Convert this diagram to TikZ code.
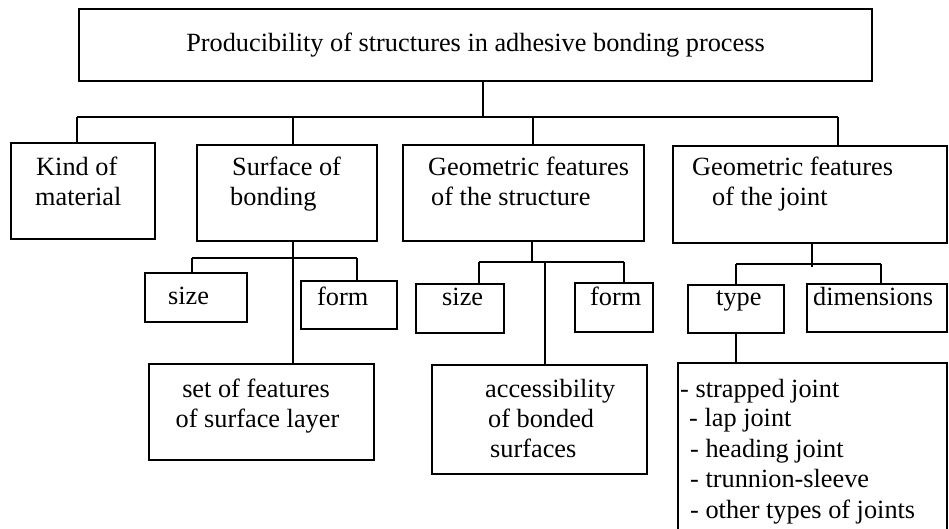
\documentclass[tikz,border=0pt]{standalone}
\usepackage{fontspec}
\setmainfont{Liberation Serif}
\begin{document}
\begin{tikzpicture}[x=1pt,y=-1pt,
  box/.style={draw=black, line width=2pt, rectangle, inner sep=0pt},
  txt/.style={inner sep=0pt, anchor=base west, font=\fontsize{26.3}{30}\selectfont},
  ctxt/.style={inner sep=0pt, anchor=base, font=\fontsize{26.3}{30}\selectfont},
  conn/.style={draw=black, line width=2pt}]
\useasboundingbox (0,0) rectangle (949,528);
% boxes
\node[box, minimum width=793pt, minimum height=72pt, font=\fontsize{26.3}{30}\selectfont] (top) at (475.5,45) {Producibility of structures in adhesive bonding process};
\node[box, minimum width=144pt, minimum height=96pt] (kind) at (83,191) {};
\node[box, minimum width=180pt, minimum height=96pt] (surf) at (287,193) {};
\node[box, minimum width=241pt, minimum height=96pt] (gstr) at (523.5,193) {};
\node[box, minimum width=274pt, minimum height=97pt] (gjoint) at (810,194.5) {};
\node[box, minimum width=102pt, minimum height=49pt] (sizea) at (196,297.5) {};
\node[box, minimum width=96pt, minimum height=48pt] (forma) at (349,305) {};
\node[box, minimum width=88pt, minimum height=49pt] (sizeb) at (460,308.5) {};
\node[box, minimum width=78pt, minimum height=49pt] (formb) at (614,307.5) {};
\node[box, minimum width=96pt, minimum height=48pt] (type) at (736,309) {};
\node[box, minimum width=140pt, minimum height=48pt] (dims) at (877,308) {};
\node[box, minimum width=225pt, minimum height=96pt] (setf) at (261.5,412) {};
\node[box, minimum width=215pt, minimum height=109pt] (access) at (539.5,419.5) {};
\node[box, minimum width=269pt, minimum height=177pt] (list) at (812.5,451.5) {};
% texts
\node[txt] (t1a) at (36,175) {Kind of};
\node[txt] (t1b) at (35,205) {material};
\node[txt] (t2a) at (232,175) {Surface of};
\node[txt] (t2b) at (230,205) {bonding};
\node[txt] (t3a) at (428,175) {Geometric features};
\node[txt] (t3b) at (431,205) {of the structure};
\node[txt] (t4a) at (692,175) {Geometric features};
\node[txt] (t4b) at (712,205) {of the joint};
\node[txt] (t5) at (168,304) {size};
\node[txt] (t6) at (317,305) {form};
\node[txt] (t7) at (442,305) {size};
\node[txt] (t8) at (590,305) {form};
\node[txt] (t9) at (716,305) {type};
\node[txt] (t10) at (813,305) {dimensions};
\node[ctxt] (t11a) at (256,397) {set of features};
\node[ctxt] (t11b) at (257.5,427) {of surface layer};
\node[txt] (t12a) at (485,397) {accessibility};
\node[txt] (t12b) at (488,427) {of bonded};
\node[txt] (t12c) at (490,457) {surfaces};
\node[txt] (t13a) at (680,397) {- strapped joint};
\node[txt] (t13b) at (689,426) {- lap joint};
\node[txt] (t13c) at (690,457) {- heading joint};
\node[txt] (t13d) at (690,487) {- trunnion-sleeve};
\node[txt] (t13e) at (690,518) {- other types of joints};
% bus coordinates
\coordinate (b0) at (483,117);
\coordinate (b0l) at (77,117);
\coordinate (b0r) at (838,117);
\coordinate (b0s) at (293,117);
\coordinate (b0g) at (533,117);
\coordinate (b1) at (293,258);
\coordinate (b1l) at (192,258);
\coordinate (b1r) at (357,258);
\coordinate (b2) at (532,262);
\coordinate (b2l) at (479,262);
\coordinate (b2r) at (624,262);
\coordinate (b2m) at (545,262);
\coordinate (b3) at (812,264);
\coordinate (b3l) at (736,264);
\coordinate (b3r) at (881,264);
% connectors
\draw[conn] (top.south -| b0) -- (b0);
\draw[conn] (b0l) -- (b0r);
\draw[conn] (b0l) -- (b0l |- kind.north);
\draw[conn] (b0s) -- (b0s |- surf.north);
\draw[conn] (b0g) -- (b0g |- gstr.north);
\draw[conn] (b0r) -- (b0r |- gjoint.north);
\draw[conn] (surf.south -| b1) -- (b1 |- setf.north);
\draw[conn] (b1l) -- (b1r);
\draw[conn] (b1l) -- (b1l |- sizea.north);
\draw[conn] (b1r) -- (b1r |- forma.north);
\draw[conn] (gstr.south -| b2) -- (b2);
\draw[conn] (b2l) -- (b2r);
\draw[conn] (b2l) -- (b2l |- sizeb.north);
\draw[conn] (b2r) -- (b2r |- formb.north);
\draw[conn] (b2m) -- (b2m |- access.north);
\draw[conn] (gjoint.south -| b3) -- ([yshift=-3pt]b3);
\draw[conn] (b3l) -- (b3r);
\draw[conn] (b3l) -- (b3l |- type.north);
\draw[conn] (b3r) -- (b3r |- dims.north);
\draw[conn] (type.south) -- (type.south |- list.north);
\end{tikzpicture}
\end{document}
